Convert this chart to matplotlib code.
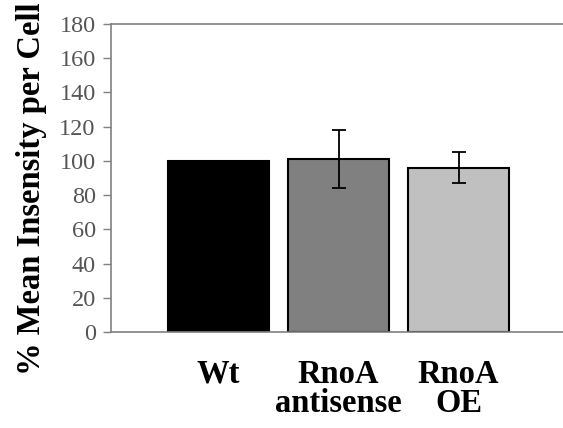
import numpy as np
import matplotlib
matplotlib.use("Agg")
import matplotlib.pyplot as plt

categories = ["Wt", "RnoA\nantisense", "RnoA\nOE"]
values = [100, 101, 96]
errors = [0, 17, 9]
colors = ["#000000", "#808080", "#c0c0c0"]

plt.rcParams['font.family'] = ['Liberation Serif', 'DejaVu Serif']

fig = plt.figure(figsize=(5.63, 4.28), dpi=100)
ax = fig.add_axes([0.197, 0.224, 0.803, 0.72])

x = np.arange(len(categories))
ax.bar(x, values, width=0.84, color=colors, edgecolor="black", linewidth=1.5, zorder=2)
err_x = [xi for xi, e in zip(x, errors) if e > 0]
err_v = [v for v, e in zip(values, errors) if e > 0]
err_e = [e for e in errors if e > 0]
ax.errorbar(err_x, err_v, yerr=err_e, fmt="none", ecolor="black",
            elinewidth=1.3, capsize=5, capthick=1.3, zorder=3)

ax.set_xlim(-0.896, 2.87)
ax.set_ylim(0, 180)
ax.set_yticks(np.arange(0, 181, 20))
ax.tick_params(axis="y", labelsize=17.5, labelcolor="#555555", color="#808080",
               length=6, width=1, direction="out", pad=5)
ax.set_xticks(x)
ax.set_xticklabels(categories, fontsize=23.5, fontweight="bold", linespacing=0.95)
ax.tick_params(axis="x", length=0, pad=19)

for s in ["left", "bottom", "top"]:
    ax.spines[s].set_color("#808080")
    ax.spines[s].set_linewidth(1.2)
ax.spines["right"].set_visible(False)

fig.text(0.056, 0.56, "% Mean Insensity per Cell", rotation=90, fontsize=23.5,
         fontweight="bold", ha="center", va="center")

fig.savefig("out.png", dpi=100)
